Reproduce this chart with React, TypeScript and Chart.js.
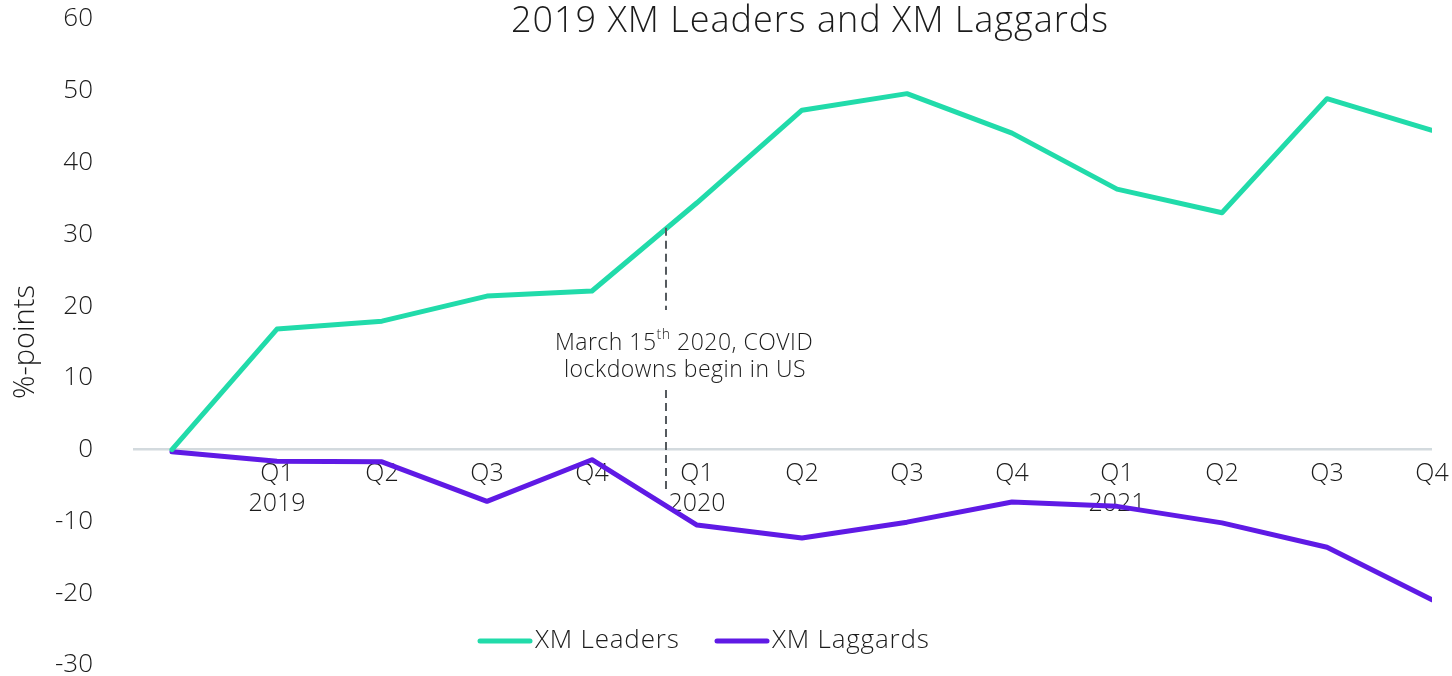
import React, { useEffect, useRef } from "react";
import { Chart, registerables } from "chart.js";

Chart.register(...registerables);

const quarterLabels = ["Q1", "Q2", "Q3", "Q4", "Q1", "Q2", "Q3", "Q4", "Q1", "Q2", "Q3", "Q4"];
const yearLabels = ["2019", "", "", "", "2020", "", "", "", "2021", "", "", ""];
const leaders = [0, 16.8, 17.9, 21.4, 22.1, 34.4, 47.3, 49.6, 44.1, 36.3, 33.0, 48.9, 44.5];
const laggards = [-0.3, -1.6, -1.7, -7.2, -1.4, -10.5, -12.3, -10.1, -7.3, -7.9, -10.2, -13.6, -20.9];
const seriesNames = ["XM Leaders", "XM Laggards"];
const seriesColors = ["#21DBAA", "#5F1AE5"];
const yTicks = [60, 50, 40, 30, 20, 10, 0, -10, -20, -30];
const titleText = "2019 XM Leaders and XM Laggards";
const yTitle = "%-points";
const annotationX = 4.705;
const annotationTop = 30.9;
const annotationBottom = -6.0;
const annotationLines = ["March 15", "th", " 2020, COVID", "lockdowns begin in US"];

const FONT = "'Open Sans', Lato, sans-serif";
const W = "300";
const TEXT = "#1b1b1b";

export default function App() {
  const ref = useRef<HTMLCanvasElement | null>(null);

  useEffect(() => {
    document.body.style.margin = "0";
    const canvas = ref.current;
    if (!canvas) return;

    const overlay = {
      id: "overlay",
      afterDraw(chart: any) {
        const ctx = chart.ctx;
        const xs = chart.scales.x;
        const ys = chart.scales.y;
        ctx.save();
        // title
        ctx.fillStyle = TEXT;
        ctx.font = `${W} 36px ${FONT}`;
        (ctx as any).letterSpacing = "1px";
        ctx.textAlign = "center";
        ctx.textBaseline = "middle";
        ctx.fillText(titleText, 810, 22);

        // annotation dashed line
        const ax = xs.getPixelForValue(annotationX);
        const yTop = ys.getPixelForValue(annotationTop);
        const yBot = ys.getPixelForValue(annotationBottom);
        ctx.strokeStyle = "#555a5e";
        ctx.lineWidth = 2;
        ctx.setLineDash([8, 5]);
        ctx.beginPath();
        ctx.moveTo(ax, yTop);
        ctx.lineTo(ax, 310);
        ctx.moveTo(ax, 390);
        ctx.lineTo(ax, yBot);
        ctx.stroke();
        ctx.setLineDash([]);

        // annotation text
        (ctx as any).letterSpacing = "0.5px";
        ctx.font = `${W} 23px ${FONT}`;
        ctx.textBaseline = "middle";
        ctx.textAlign = "left";
        const p1 = annotationLines[0];
        const sup = annotationLines[1];
        const p2 = annotationLines[2];
        const w1 = ctx.measureText(p1).width;
        ctx.font = `${W} 14px ${FONT}`;
        const ws = ctx.measureText(sup).width;
        ctx.font = `${W} 23px ${FONT}`;
        const w2 = ctx.measureText(p2).width;
        const total = w1 + ws + w2;
        const sx = 684 - total / 2;
        ctx.fillText(p1, sx, 343);
        ctx.font = `${W} 14px ${FONT}`;
        ctx.fillText(sup, sx + w1, 335);
        ctx.font = `${W} 23px ${FONT}`;
        ctx.fillText(p2, sx + w1 + ws, 343);
        ctx.textAlign = "center";
        ctx.fillText(annotationLines[3], 685, 370);

        // legend
        (ctx as any).letterSpacing = "0.8px";
        ctx.font = `${W} 26px ${FONT}`;
        ctx.textAlign = "left";
        const legendItems = [
          { x: 478, name: seriesNames[0], color: seriesColors[0] },
          { x: 715, name: seriesNames[1], color: seriesColors[1] },
        ];
        for (const it of legendItems) {
          ctx.strokeStyle = it.color;
          ctx.lineWidth = 5;
          ctx.lineCap = "round";
          ctx.beginPath();
          ctx.moveTo(it.x + 2, 641);
          ctx.lineTo(it.x + 52, 641);
          ctx.stroke();
          ctx.fillStyle = TEXT;
          ctx.fillText(it.name, it.x + 57, 641);
        }
        ctx.restore();
      },
    };

    const chart = new Chart(canvas, {
      type: "line",
      data: {
        datasets: [
          {
            label: seriesNames[0],
            data: leaders.map((v, i) => ({ x: i, y: v })),
            borderColor: seriesColors[0],
            backgroundColor: seriesColors[0],
            borderWidth: 5,
            pointRadius: 0,
            tension: 0,
            borderCapStyle: "round",
            borderJoinStyle: "round",
          },
          {
            label: seriesNames[1],
            data: laggards.map((v, i) => ({ x: i, y: v })),
            borderColor: seriesColors[1],
            backgroundColor: seriesColors[1],
            borderWidth: 5,
            pointRadius: 0,
            tension: 0,
            borderCapStyle: "round",
            borderJoinStyle: "round",
          },
        ],
      },
      options: {
        animation: false,
        responsive: false,
        maintainAspectRatio: false,
        layout: { padding: { left: 0, right: 20, top: 19, bottom: 11 } },
        plugins: {
          legend: { display: false },
          title: { display: false },
          tooltip: { enabled: false },
        },
        scales: {
          x: {
            type: "linear",
            position: { y: 0 },
            min: -0.371,
            max: 12,
            grid: { display: false, drawTicks: false },
            border: { display: false },
            afterBuildTicks: (scale: any) => {
              scale.ticks = quarterLabels.map((_, i) => ({ value: i + 1 }));
            },
            afterFit: (scale: any) => {
              scale.paddingLeft = 0;
              scale.paddingRight = 0;
            },
            ticks: {
              autoSkip: false,
              maxRotation: 0,
              padding: 9,
              color: TEXT,
              font: { family: FONT, size: 25, weight: W, lineHeight: 1.2 },
              callback: (v: any) => {
                const i = Math.round(Number(v)) - 1;
                const q = quarterLabels[i] || "";
                const y = yearLabels[i] || "";
                return y ? [q, y] : q;
              },
            },
          },
          y: {
            type: "linear",
            min: -30,
            max: 60,
            afterBuildTicks: (scale: any) => {
              scale.ticks = yTicks.map((v) => ({ value: v }));
            },
            afterFit: (scale: any) => {
              scale.width = 133;
              scale.paddingTop = 0;
              scale.paddingBottom = 0;
            },
            grid: {
              drawTicks: false,
              color: (c: any) => (c.tick && c.tick.value === 0 ? "#d3dade" : "rgba(0,0,0,0)"),
              lineWidth: 2.5,
            },
            border: { display: false },
            title: {
              display: true,
              text: yTitle,
              color: TEXT,
              font: { family: FONT, size: 29, weight: W, lineHeight: 1.2 },
              padding: { top: 8, bottom: 0 },
            },
            ticks: {
              padding: 40,
              color: TEXT,
              font: { family: FONT, size: 26, weight: W, lineHeight: 0.8 },
            },
          },
        },
      },
      plugins: [overlay],
    } as any);

    return () => chart.destroy();
  }, []);

  return (
    <div style={{ width: 1452, height: 676 }}>
      <canvas ref={ref} width={1452} height={676} style={{ display: "block", width: 1452, height: 676 }} />
    </div>
  );
}
